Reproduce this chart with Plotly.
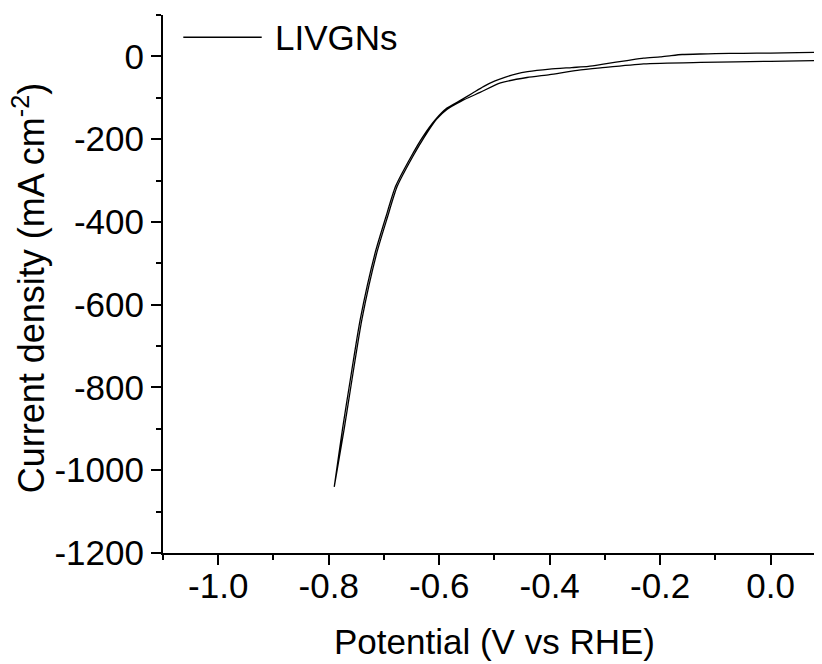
import plotly.graph_objects as go

# Forward (cathodic) scan: upper branch, from 0.1 V down to -0.79 V
fwd_potential = [0.1, 0.05, 0.0, -0.05, -0.1, -0.127, -0.16, -0.18, -0.2, -0.23, -0.26,
                 -0.3, -0.33, -0.36, -0.4, -0.44, -0.46, -0.48, -0.5, -0.52, -0.54,
                 -0.56, -0.586, -0.607, -0.63, -0.65, -0.679, -0.697, -0.716, -0.743,
                 -0.761, -0.775, -0.79]
fwd_current = [10, 9, 8, 7.5, 6.5, 5.8, 4.5, 2, -1, -4, -10,
               -18, -24, -27, -31, -37, -42, -50, -60, -73, -89,
               -105, -125, -153, -195, -240, -314, -390, -475, -636,
               -782, -900, -1040]

# Reverse (anodic) scan: lower branch, from -0.79 V back to 0.1 V
rev_potential = [-0.79, -0.772, -0.758, -0.74, -0.713, -0.694, -0.676, -0.647, -0.627,
                 -0.605, -0.586, -0.56, -0.526, -0.489, -0.441, -0.4, -0.35,
                 -0.308, -0.23, -0.127, 0.0, 0.1]
rev_current = [-1040, -900, -782, -636, -475, -390, -314, -240, -195,
               -152, -128, -108, -87, -64, -51, -44, -34,
               -28, -18, -14.5, -12, -10]

x_vals = fwd_potential + rev_potential
y_vals = fwd_current + rev_current

x_tickvals = [-1.0, -0.8, -0.6, -0.4, -0.2, 0.0]
x_ticktext = ["-1.0", "-0.8", "-0.6", "-0.4", "-0.2", "0.0"]
y_tickvals = [0, -200, -400, -600, -800, -1000, -1200]
y_ticktext = ["0", "-200", "-400", "-600", "-800", "-1000", "-1200"]

series_name = "LIVGNs"
x_title = "Potential (V vs RHE)"
y_title = "Current density (mA cm<sup>-2</sup>)"

FONT = "Liberation Sans, Arial, sans-serif"

fig = go.Figure()
fig.add_trace(go.Scatter(
    x=x_vals, y=y_vals, mode="lines", name=series_name,
    line=dict(color="black", width=1.3, shape="spline", smoothing=0.6),
    showlegend=False,
))

axis_common = dict(
    showline=True, linecolor="black", linewidth=2,
    ticks="outside", ticklen=10, tickwidth=2, tickcolor="black",
    showgrid=False, zeroline=False, mirror=False,
    tickfont=dict(family=FONT, size=35, color="black"),
)

fig.update_xaxes(
    range=[-1.1, 0.093], tickvals=x_tickvals, ticktext=x_ticktext,
    ticklabelstandoff=-9,
    minor=dict(ticks="outside", ticklen=5, tickwidth=2, tickcolor="black", dtick=0.1),
    **axis_common,
)
fig.update_yaxes(
    range=[-1200, 100], tickvals=y_tickvals, ticktext=y_ticktext,
    minor=dict(ticks="outside", ticklen=5, tickwidth=2, tickcolor="black", dtick=100),
    **axis_common,
)

fig.update_layout(
    width=814, height=656,
    margin=dict(l=155, r=0, t=7, b=111, pad=0),
    plot_bgcolor="white", paper_bgcolor="white",
    font=dict(family=FONT, color="black"),
    showlegend=False,
    shapes=[dict(type="line", xref="paper", yref="paper",
                 x0=0.0308, x1=0.1498, y0=0.9586, y1=0.9586,
                 line=dict(color="black", width=1.3))],
    annotations=[
        dict(text=series_name, xref="paper", yref="paper", x=0.1669, y=0.9586,
             xanchor="left", yanchor="middle", showarrow=False,
             font=dict(family=FONT, size=35, color="black")),
        dict(text=x_title, xref="paper", yref="paper", x=0.503, y=-0.165,
             xanchor="center", yanchor="middle", showarrow=False,
             font=dict(family=FONT, size=35, color="black")),
        dict(text=y_title, xref="paper", yref="paper", x=-0.204, y=0.493,
             xanchor="center", yanchor="middle", textangle=-90, showarrow=False,
             font=dict(family=FONT, size=36, color="black")),
    ],
)

fig.write_html("out.html")
